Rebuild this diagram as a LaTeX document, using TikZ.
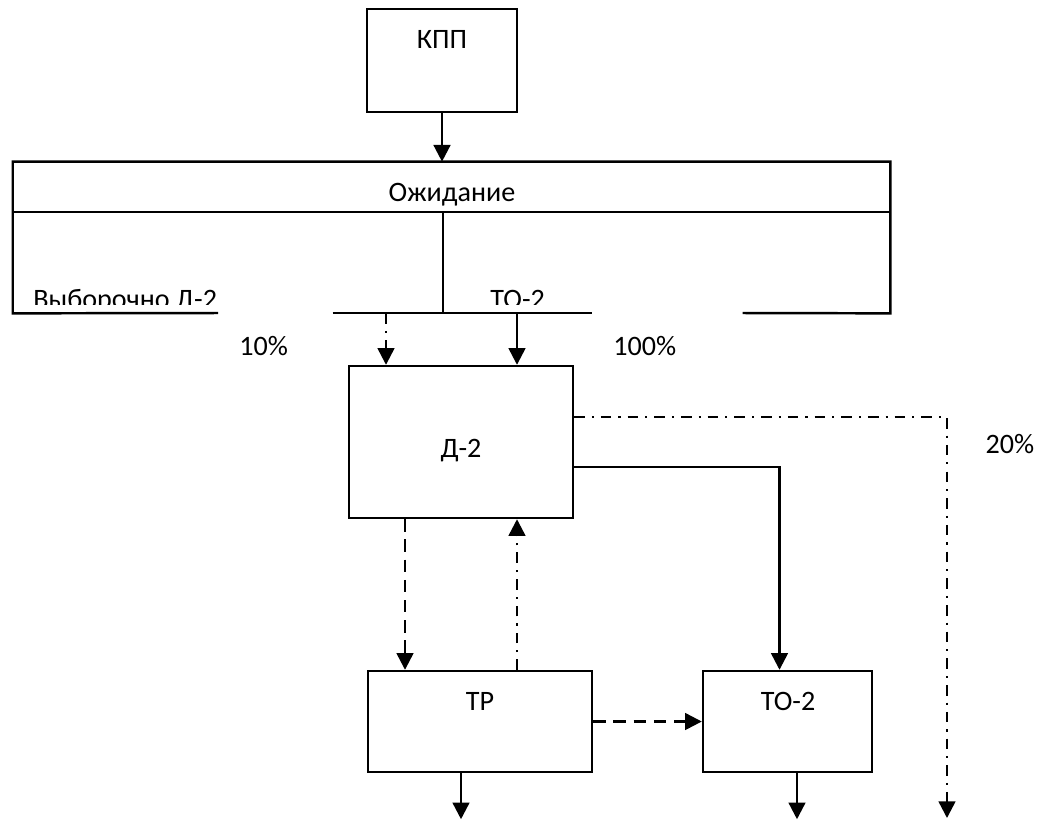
\documentclass[tikz,border=0pt]{standalone}
\usepackage{fontspec}
\setmainfont{Carlito}
\usetikzlibrary{arrows.meta, positioning, calc}

\begin{document}
\begin{tikzpicture}[x=0.02cm, y=-0.02cm,
    pbox/.style={draw, line width=1.4pt, inner sep=0pt},
    pline/.style={line width=1.4pt},
    ptext/.style={font=\fontsize{16}{19}\selectfont, inner sep=0pt, anchor=base},
    pct/.style={font=\fontsize{16}{19}\selectfont, anchor=north west, align=left, inner xsep=0.42cm, inner ysep=0pt, text height=0.84cm, text depth=0pt},
    arr/.style={-{Triangle[width=9.5pt,length=9.5pt]}, line width=1.4pt},
    arrdash/.style={arr, dash pattern=on 7pt off 4.5pt},
    arrdd/.style={arr, dash pattern=on 6pt off 4pt on 1.2pt off 4pt}
  ]
    \useasboundingbox (0,0) rectangle (1051,823);
    % boxes
    \node[pbox, minimum width=3cm, minimum height=2.06cm] (kpp) at (442,60.5) {};
    \node[inner sep=0pt, minimum width=17.54cm, minimum height=3.02cm] (wait) at (451.5,237.5) {};
    \node[pbox, minimum width=4.48cm, minimum height=3.04cm] (d2) at (461,442) {};
    \node[pbox, minimum width=4.48cm, minimum height=2.02cm] (tr) at (480,721.5) {};
    \node[pbox, minimum width=3.38cm, minimum height=2.02cm] (to2) at (787.5,721.5) {};
    % texts
    \node[ptext] (kpptxt) at (442,48) {КПП};
    \node[ptext] (waittxt) at (452,201) {Ожидание};
    \node[ptext] (d2txt) at (461,457) {Д-2};
    \node[ptext] (trtxt) at (480,710) {ТР};
    \node[ptext] (to2txt) at (788,710) {ТО-2};
    \node[ptext] (p20) at (1010,453) {20\%};
    \begin{scope}
      \clip (13,162) rectangle (890,304);
      \node[ptext, anchor=base west] (seltxt) at (33,308) {Выборочно Д-2};
      \node[ptext, anchor=base west] (totxt) at (490,308) {ТО-2};
    \end{scope}
    \node[pct, text width=1.44cm] (p10) at (218,313) {10\%};
    \node[pct, text width=2.16cm] (p100) at (592,313) {100\%};
    % waiting box outline, broken under the percentages
    \draw[pline] (p10.north west) -- (wait.south west) -- (wait.north west)
      -- (wait.north east) -- (wait.south east) -- (p100.north east);
    \draw[pline] (p10.north east) -- (p100.north west);
    \draw[pline] (wait.west |- 0,212) coordinate (mid) -- (wait.east |- mid);
    \draw[pline] (443,212) -- (wait.south -| 443,0);
    % ports
    \coordinate (inA) at ($(d2.north)+(-75,0)$);
    \coordinate (inB) at ($(d2.north)+(56,0)$);
    \coordinate (dn) at ($(d2.south)+(-56,0)$);
    \coordinate (up) at ($(tr.north)+(37,0)$);
    \coordinate (outA) at ($(d2.east)+(0,25)$);
    \coordinate (outB) at ($(d2.east)+(0,-25)$);
    \coordinate (endB) at (947,818);
    % connectors
    \draw[arr] (kpp.south) -- (kpp.south |- wait.north);
    \draw[arrdd] (inA |- wait.south) -- (inA);
    \draw[arr] (inB |- wait.south) -- (inB);
    \draw[arrdash] (dn) -- (dn |- tr.north);
    \draw[arrdd] (up) -- (up |- d2.south);
    \draw[arrdash] (tr.east) -- (to2.west);
    \draw[arr] (outA) -| ($(to2.north)+(-8,0)$);
    \draw[arrdd] (outB) -| (endB);
    \draw[arr] ($(tr.south)+(-19,0)$) -- ++(0,46);
    \draw[arr] ($(to2.south)+(9.5,0)$) -- ++(0,46);
\end{tikzpicture}
\end{document}
